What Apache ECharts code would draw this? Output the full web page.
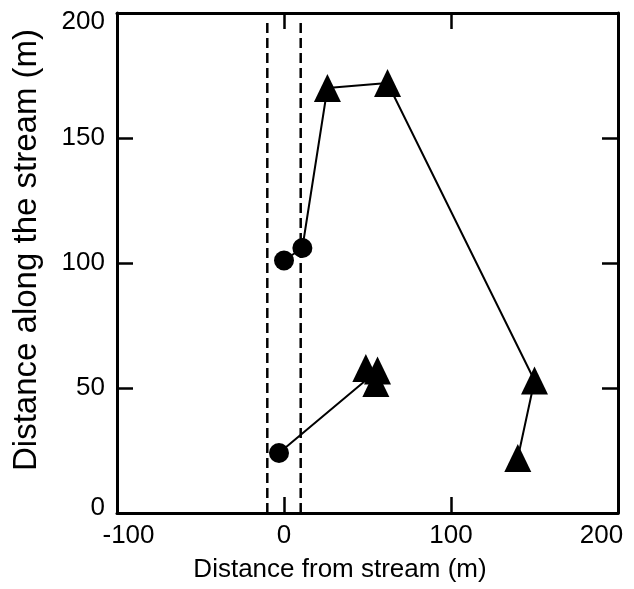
<!DOCTYPE html>
<html>
<head>
<meta charset="utf-8">
<script src="https://cdn.jsdelivr.net/npm/echarts@6/dist/echarts.min.js"></script>
<style>
  html, body { margin: 0; padding: 0; background: #fff; }
  #chart { width: 634px; height: 589px; }
</style>
</head>
<body>
<div id="chart"></div>
<script>
// tracks: [distance from stream, distance along stream]
var upperTrack = [[0, 101], [11, 106], [26, 170], [62, 172], [150, 53], [140, 22]]
var upperMarks = ['circle', 'circle', 'triangle', 'triangle', 'triangle', 'triangle']
var lowerTrack = [[-3, 24], [56, 57], [49, 58], [55, 52]]
var lowerMarks = ['circle', 'triangle', 'triangle', 'triangle']
// stream buffer edges (dashed)
var bufferEdges = [-10, 10]
var bufferTop = 196
var xTicks = [-100, 0, 100, 200]
var yTicks = [0, 50, 100, 150, 200]

var FONT = 'Liberation Sans, Arial, sans-serif'

function toItems(track, marks) {
  return track.map(function (p, i) {
    return {
      value: p,
      symbol: marks[i],
      symbolSize: marks[i] === 'circle' ? 20 : [27, 28]
    }
  })
}

function trackSeries(track, marks) {
  return {
    type: 'line',
    data: toItems(track, marks),
    showAllSymbol: true,
    lineStyle: { color: '#000', width: 2 },
    itemStyle: { color: '#000' },
    z: 3
  }
}

function edgeSeries(x) {
  return {
    type: 'line',
    data: [[x, bufferTop], [x, 0]],
    symbol: 'none',
    lineStyle: { color: '#000', width: 2.5, type: [10, 5] },
    z: 2
  }
}

var tickStyle = { show: true, inside: true, length: 16, lineStyle: { color: '#000', width: 2.5 } }
var lineStyle = { show: true, onZero: false, lineStyle: { color: '#000', width: 3 } }
var labelFont = { fontSize: 26, fontFamily: FONT, color: '#000' }

var chart = echarts.init(document.getElementById('chart'))

var option = {
  animation: false,
  backgroundColor: '#fff',
  grid: { left: 117, right: 16, top: 13, bottom: 76 },
  xAxis: [
    {
      type: 'value',
      min: xTicks[0],
      max: xTicks[xTicks.length - 1],
      interval: 100,
      position: 'bottom',
      axisLine: lineStyle,
      axisTick: tickStyle,
      splitLine: { show: false },
      axisLabel: {
        margin: 10,
        color: '#000',
        fontSize: 26,
        fontFamily: FONT,
        formatter: function (v) {
          if (v === -100) return '{a|-100}'
          if (v === 200) return '{b|200}'
          return String(v)
        },
        rich: {
          a: Object.assign({ padding: [0, 0, 0, 23] }, labelFont),
          b: Object.assign({ padding: [0, 33, 0, 0] }, labelFont)
        }
      },
      name: 'Distance from stream (m)',
      nameLocation: 'middle',
      nameGap: 44,
      nameTextStyle: { color: '#000', fontSize: 26, fontFamily: FONT, padding: [0, 55, 0, 0] }
    },
    {
      type: 'value',
      min: xTicks[0],
      max: xTicks[xTicks.length - 1],
      interval: 100,
      position: 'top',
      axisLine: lineStyle,
      axisTick: tickStyle,
      axisLabel: { show: false },
      splitLine: { show: false }
    }
  ],
  yAxis: [
    {
      type: 'value',
      min: yTicks[0],
      max: yTicks[yTicks.length - 1],
      interval: 50,
      position: 'left',
      axisLine: lineStyle,
      axisTick: tickStyle,
      splitLine: { show: false },
      axisLabel: {
        margin: 12,
        color: '#000',
        fontSize: 26,
        fontFamily: FONT,
        formatter: function (v) {
          if (v === 200) return '{t|200}'
          if (v === 0) return '{z|0}'
          return String(v)
        },
        rich: {
          t: Object.assign({ padding: [18, 0, 0, 0] }, labelFont),
          z: Object.assign({ padding: [0, 0, 10, 0] }, labelFont)
        }
      },
      name: 'Distance along the stream (m)',
      nameLocation: 'middle',
      nameGap: 74,
      nameTextStyle: { color: '#000', fontSize: 33, fontFamily: FONT, padding: [0, 0, 0, 26] }
    },
    {
      type: 'value',
      min: yTicks[0],
      max: yTicks[yTicks.length - 1],
      interval: 50,
      position: 'right',
      axisLine: lineStyle,
      axisTick: tickStyle,
      axisLabel: { show: false },
      splitLine: { show: false }
    }
  ],
  series: [
    edgeSeries(bufferEdges[0]),
    edgeSeries(bufferEdges[1]),
    trackSeries(upperTrack, upperMarks),
    trackSeries(lowerTrack, lowerMarks)
  ]
}

chart.setOption(option, true)
</script>
</body>
</html>
